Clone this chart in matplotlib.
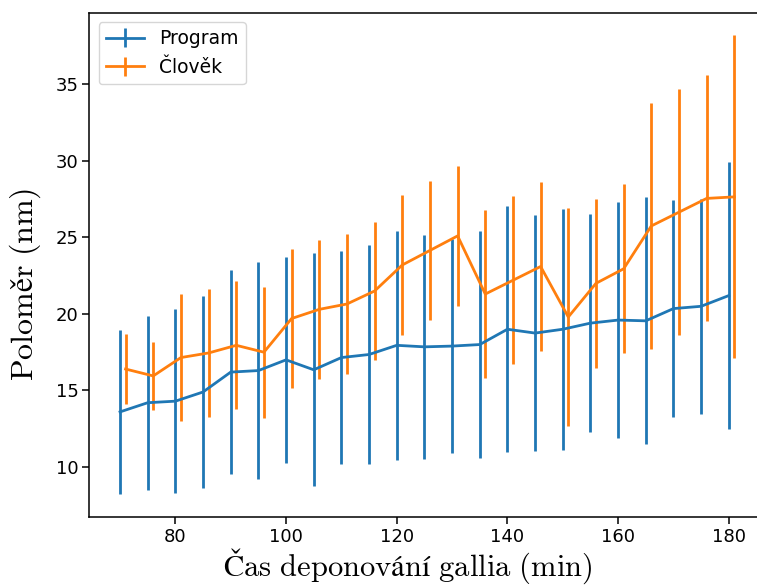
import numpy as np
from matplotlib import pyplot as plt

plt.rcParams["mathtext.fontset"] = "cm"

# cas deponovani (min)
cas_program = list(range(70, 181, 5))
cas_clovek = [c + 1 for c in cas_program]

# program
polomer_program = [13.6, 14.2, 14.3, 14.9, 16.2, 16.3, 17.0, 16.35, 17.15, 17.35, 17.95, 17.85,
                   17.9, 18.0, 19.0, 18.75, 19.0, 19.4, 19.6, 19.55, 20.35, 20.5, 21.2]
chyba_program = [5.35, 5.68, 6.0, 6.27, 6.69, 7.09, 6.73, 7.62, 6.97, 7.17, 7.47, 7.32,
                 7.0, 7.42, 8.03, 7.71, 7.89, 7.13, 7.7, 8.08, 7.09, 7.02, 8.73]

# clovek
polomer_clovek = [16.4, 15.95, 17.15, 17.45, 17.95, 17.5, 19.7, 20.3, 20.65, 21.5, 23.2, 24.15,
                  25.1, 21.3, 22.2, 23.1, 19.8, 22.0, 22.95, 25.75, 26.65, 27.55, 27.65]
chyba_clovek = [2.3, 2.24, 4.17, 4.16, 4.18, 4.27, 4.57, 4.53, 4.57, 4.5, 4.55, 4.56,
                4.57, 5.5, 5.49, 5.51, 7.14, 5.52, 5.52, 8.05, 8.03, 8.04, 10.55]

fig = plt.figure(figsize=(7.57, 5.85), dpi=100)
# osa presahuje pravy okraj (puvodni obrazek byl oriznuty)
ax = fig.add_axes([0.118, 0.1168, 0.8926, 0.8618])

ax.errorbar(cas_program, polomer_program, yerr=chyba_program, label="Program",
            linewidth=2, elinewidth=2)
ax.errorbar(cas_clovek, polomer_clovek, yerr=chyba_clovek, label="Člověk",
            linewidth=2, elinewidth=2)

ax.tick_params(labelsize=13, length=4.8, width=1.1, pad=3)
for s in ax.spines.values():
    s.set_linewidth(1.1)

ax.set_xlabel(r"$\mathrm{Čas\ deponování\ gallia\ (min)}$", fontsize=22)
ax.set_ylabel(r"$\mathrm{Poloměr\ (nm)}$", fontsize=23)
ax.xaxis.set_label_coords(0.4717, -0.060)
ax.yaxis.set_label_coords(-0.068, 0.4615)
ax.legend(loc="upper left", fontsize=13.5)

plt.savefig("out.png", dpi=100)
